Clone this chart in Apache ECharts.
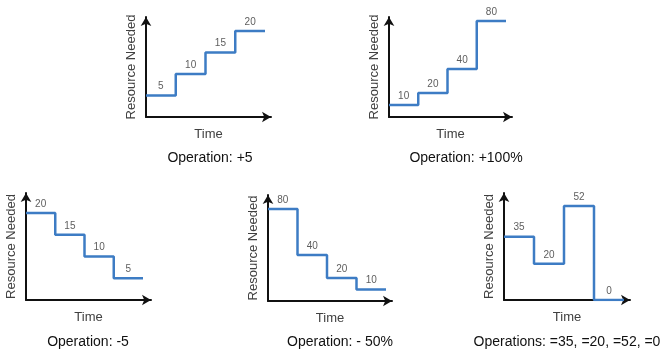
<!DOCTYPE html>
<html>
<head>
<meta charset="utf-8">
<script src="https://cdn.jsdelivr.net/npm/echarts@6/dist/echarts.min.js"></script>
<style>
  html, body { margin: 0; padding: 0; background: #fff; }
  #main { width: 667px; height: 354px; }
</style>
</head>
<body>
<div id="main"></div>
<script>
  // step values for each panel
  const addValues = [5, 10, 15, 20]
  const mulValues = [10, 20, 40, 80]
  const subValues = [20, 15, 10, 5]
  const halfValues = [80, 40, 20, 10]
  const setValues = [35, 20, 52, 0]
  const captions = [
    "Operation: +5",
    "Operation: +100%",
    "Operation: -5",
    "Operation: - 50%",
    "Operations: =35, =20, =52, =0",
  ]

  // layout of each panel: origin, px per step, px per unit, axis lengths
  const panels = [
    { values: addValues, ox: 146, oy: 117, xs: 29.75, ys: 4.3, xLen: 125, yLen: 100, cx: 210, cy: 158 },
    { values: mulValues, ox: 389, oy: 117, xs: 29.25, ys: 1.2, xLen: 123, yLen: 100, cx: 466, cy: 158 },
    { values: subValues, ox: 26, oy: 300, xs: 29.25, ys: 4.35, xLen: 125, yLen: 107, cx: 88, cy: 342 },
    { values: halfValues, ox: 268, oy: 301, xs: 29.5, ys: 1.15, xLen: 124, yLen: 106, cx: 340, cy: 342 },
    { values: setValues, ox: 504, oy: 300, xs: 30, ys: 1.81, xLen: 126, yLen: 107, cx: 567, cy: 342 },
  ]

  const font = "'Liberation Sans', Arial, sans-serif"
  const grid = [], xAxis = [], yAxis = [], series = [], graphic = []

  panels.forEach((p, i) => {
    grid.push({ left: p.ox, top: p.oy - p.yLen, width: p.xLen, height: p.yLen, containLabel: false })
    xAxis.push({
      type: "value",
      gridIndex: i,
      min: 0,
      max: p.xLen / p.xs,
      name: "Time",
      nameLocation: "middle",
      nameGap: 11,
      nameTextStyle: { color: "#404040", fontSize: 13, fontFamily: font, verticalAlign: "top" },
      axisLine: { show: true, symbol: ["none", "arrow"], symbolSize: [8, 9], lineStyle: { color: "#111", width: 2 } },
      axisTick: { show: false },
      axisLabel: { show: false },
      splitLine: { show: false },
    })
    yAxis.push({
      type: "value",
      gridIndex: i,
      min: 0,
      max: p.yLen / p.ys,
      name: "Resource Needed",
      nameLocation: "middle",
      nameRotate: 90,
      nameGap: 8,
      nameTextStyle: { color: "#404040", fontSize: 13, fontFamily: font },
      axisLine: { show: true, symbol: ["none", "arrow"], symbolSize: [8, 9], lineStyle: { color: "#111", width: 2 } },
      axisTick: { show: false },
      axisLabel: { show: false },
      splitLine: { show: false },
    })
    const pts = p.values.map((v, k) => [k, v])
    pts.push([p.values.length, p.values[p.values.length - 1]])
    series.push({
      type: "line",
      xAxisIndex: i,
      yAxisIndex: i,
      step: "end",
      data: pts,
      symbol: "none",
      lineStyle: { color: "#3d7cc4", width: 2.5 },
      z: 1,
      silent: true,
    })
    series.push({
      type: "scatter",
      xAxisIndex: i,
      yAxisIndex: i,
      data: p.values.map((v, k) => [k + 0.5, v]),
      symbolSize: 0,
      label: {
        show: true,
        position: "top",
        distance: 4,
        color: "#333",
        fontSize: 10,
        fontFamily: font,
        formatter: (d) => d.value[1],
      },
      silent: true,
    })
    graphic.push({
      type: "text",
      x: p.cx,
      y: p.cy,
      style: {
        text: captions[i],
        fill: "#111",
        font: "14px " + font,
        align: "center",
        verticalAlign: "middle",
      },
    })
  })

  const chart = echarts.init(document.getElementById("main"))
  chart.setOption({
    backgroundColor: "#fff",
    animation: false,
    grid,
    xAxis,
    yAxis,
    series,
    graphic,
  })
</script>
</body>
</html>
